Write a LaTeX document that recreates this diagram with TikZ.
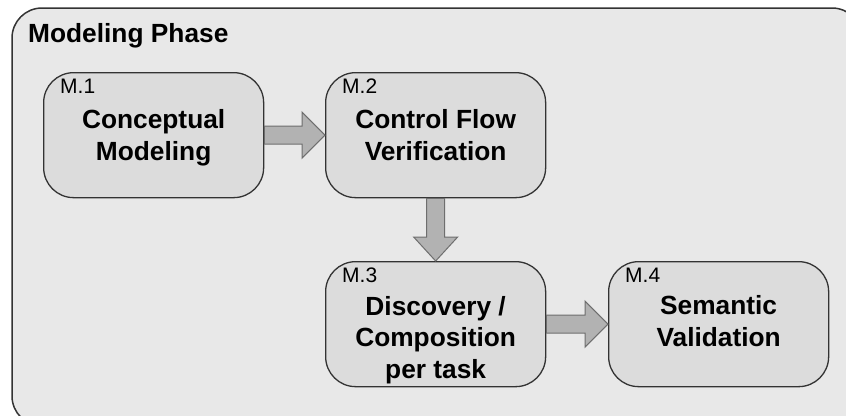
\documentclass[tikz,border=0pt]{standalone}
\usepackage{fontspec}
\setmainfont{Liberation Sans}
\usetikzlibrary{calc}
\definecolor{phasebg}{HTML}{E8E8E8}
\definecolor{stepfill}{HTML}{DCDCDC}
\definecolor{arrowfill}{HTML}{B2B2B2}
\definecolor{arrowline}{HTML}{6E6E6E}
\definecolor{edgeline}{HTML}{333333}

% block arrow pointing right, from the east side of #1 to the west side of #2
\newcommand{\blockright}[2]{%
  \draw[blockarrow]
    ($(#1.east)+(0,-9)$) -- ($(#2.west)+(-23,-9)$) -- ($(#2.west)+(-23,-23)$)
    -- (#2.west) -- ($(#2.west)+(-23,23)$) -- ($(#2.west)+(-23,9)$)
    -- ($(#1.east)+(0,9)$) -- cycle;}
% block arrow pointing down, from the south side of #1 to the north side of #2
\newcommand{\blockdown}[2]{%
  \draw[blockarrow]
    ($(#1.south)+(-9,0)$) -- ($(#2.north)+(-9,-24)$) -- ($(#2.north)+(-22,-24)$)
    -- (#2.north) -- ($(#2.north)+(22,-24)$) -- ($(#2.north)+(9,-24)$)
    -- ($(#1.south)+(9,0)$) -- cycle;}

\begin{document}
\begin{tikzpicture}[x=1pt,y=-1pt,
  stepbox/.style={draw=edgeline, line width=1.3pt, fill=stepfill,
    rounded corners=30pt, minimum width=220pt, minimum height=125pt,
    inner sep=0pt, anchor=north west},
  % anchor=base sits on the baseline of the last line
  steptitle/.style={font=\fontsize{26.3}{31.5}\selectfont\bfseries,
    align=center, anchor=base, inner sep=0pt},
  stepid/.style={font=\fontsize{21}{21}\selectfont, anchor=base west, inner sep=0pt},
  blockarrow/.style={draw=arrowline, fill=arrowfill, line width=1pt, line join=miter}]

\useasboundingbox (0,0) rectangle (846,415);
\clip (0,0) rectangle (846,415);

% phase frame
\draw[draw=edgeline, line width=1.5pt, fill=phasebg, rounded corners=30pt]
  (12,8) rectangle (862,426);
\node[anchor=base west, inner sep=0pt, font=\fontsize{26.3}{26.3}\selectfont\bfseries]
  (phase) at (28,42) {Modeling Phase};

% steps
\node[stepbox] (m1) at (43,72) {};
\node[stepbox] (m2) at (325,72) {};
\node[stepbox] (m3) at (325,261) {};
\node[stepbox] (m4) at (608,261) {};

\node[stepid] (m1id) at ($(m1.north west)+(17,21)$) {M.1};
\node[stepid] (m2id) at ($(m2.north west)+(17,21)$) {M.2};
\node[stepid] (m3id) at ($(m3.north west)+(17,21)$) {M.3};
\node[stepid] (m4id) at ($(m4.north west)+(17,21)$) {M.4};

\node[steptitle] (m1t) at ($(m1.north)+(0,88)$) {Conceptual\\Modeling};
\node[steptitle] (m2t) at ($(m2.north)+(0,88)$) {Control Flow\\Verification};
\node[steptitle] (m3t) at ($(m3.north)+(0,117)$) {Discovery /\\Composition\\per task};
\node[steptitle] (m4t) at ($(m4.north)+(0,85)$) {Semantic\\Validation};

% flow between steps
\blockright{m1}{m2}
\blockdown{m2}{m3}
\blockright{m3}{m4}
\end{tikzpicture}
\end{document}
